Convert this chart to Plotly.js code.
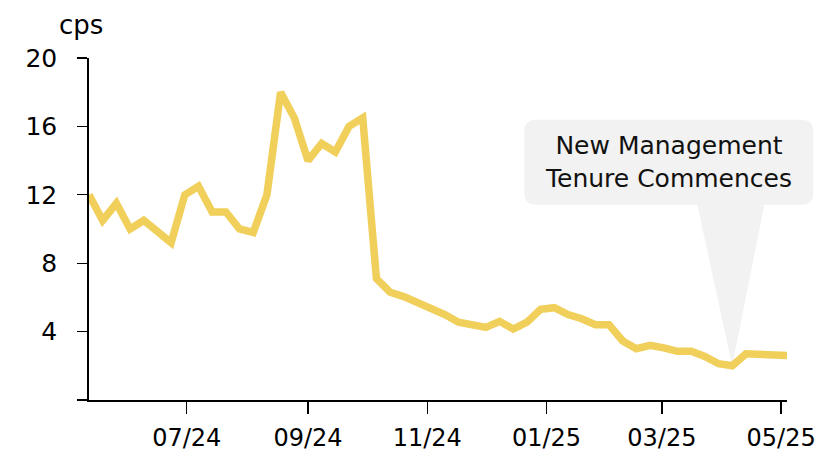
<!DOCTYPE html>
<html>
<head>
<meta charset="utf-8">
<script src="https://cdn.plot.ly/plotly-3.0.1.min.js"></script>
<style>
html,body{margin:0;padding:0;background:#fff;}
#chart{width:825px;height:453px;}
</style>
</head>
<body>
<div id="chart"></div>
<script>
// Weekly observation dates
const dates = [
  "2024-05-12","2024-05-19","2024-05-26","2024-06-02","2024-06-09","2024-06-16","2024-06-23","2024-06-30",
  "2024-07-07","2024-07-14","2024-07-21","2024-07-28","2024-08-04","2024-08-11","2024-08-18","2024-08-25",
  "2024-09-01","2024-09-08","2024-09-15","2024-09-22","2024-09-29","2024-10-06","2024-10-13","2024-10-20",
  "2024-10-27","2024-11-03","2024-11-10","2024-11-17","2024-11-24","2024-12-01","2024-12-08","2024-12-15",
  "2024-12-22","2024-12-29","2025-01-05","2025-01-12","2025-01-19","2025-01-26","2025-02-02","2025-02-09",
  "2025-02-16","2025-02-23","2025-03-02","2025-03-09","2025-03-16","2025-03-23","2025-03-30","2025-04-06",
  "2025-04-13","2025-04-20","2025-04-27","2025-05-04"
];
// Values in cents per share (cps)
const values = [
  12.0, 10.5, 11.5, 10.0, 10.5, 9.8, 9.2, 12.0,
  12.5, 11.0, 11.0, 10.0, 9.8, 12.0, 18.0, 16.5,
  14.0, 15.0, 14.5, 16.0, 16.5, 7.1, 6.3, 6.05,
  5.7, 5.45, 5.0, 4.55, 4.45, 4.25, 4.6, 4.15,
  4.55, 5.3, 5.4, 5.0, 4.75, 4.4, 4.4, 3.45,
  3.0, 3.2, 3.05, 2.85, 2.85, 2.55, 2.12, 2.0,
  2.7, 2.7, 2.6, 2.6
];
const xTickVals = ["2024-07-01","2024-09-01","2024-11-01","2025-01-01","2025-03-01","2025-05-01"];
const xTickText = ["07/24","09/24","11/24","01/25","03/25","05/25"];
const yTickVals = [0, 4, 8, 12, 16, 20];
const yTickText = ["", "4", "8", "12", "16", "20"];
const yRange = [0, 20];
const unitLabel = "cps";
const calloutText = "New Management<br>Tenure Commences";
const calloutDate = "2025-04-06";
const calloutValue = 2.0;

const lineColor = "#F0CF5A";
const boxColor = "#F2F2F2";
const fontFamily = "DejaVu Sans, Arial, sans-serif";

// Anchor of the callout, as a fraction of the plot area (paper refs are not clipped)
const t0 = Date.parse(dates[0]), t1 = Date.parse(dates[dates.length - 1]);
const anchorX = (Date.parse(calloutDate) - t0) / (t1 - t0);
const anchorY = (calloutValue - yRange[0]) / (yRange[1] - yRange[0]);

// Rounded box path in pixels relative to the callout anchor point
function roundedRect(x0, x1, y0, y1, r) {
  return `M ${x0 + r} ${y0} L ${x1 - r} ${y0} Q ${x1} ${y0} ${x1} ${y0 + r} ` +
         `L ${x1} ${y1 - r} Q ${x1} ${y1} ${x1 - r} ${y1} L ${x0 + r} ${y1} ` +
         `Q ${x0} ${y1} ${x0} ${y1 - r} L ${x0} ${y0 + r} Q ${x0} ${y0} ${x0 + r} ${y0} Z`;
}

const trace = {
  x: dates, y: values, type: "scatter", mode: "lines",
  line: {color: lineColor, width: 7.5, shape: "linear"},
  hoverinfo: "skip"
};

const layout = {
  width: 825, height: 453,
  margin: {l: 89, r: 38, t: 58, b: 53},
  paper_bgcolor: "#fff", plot_bgcolor: "#fff",
  showlegend: false,
  xaxis: {
    type: "date",
    range: [dates[0], dates[dates.length - 1]],
    tickvals: xTickVals, ticktext: xTickText,
    ticks: "outside", ticklen: 12, tickwidth: 1.3, tickcolor: "#000",
    showline: true, linecolor: "#000", linewidth: 1.8,
    showgrid: false, zeroline: false,
    tickfont: {family: fontFamily, size: 24, color: "#000"}, ticklabelstandoff: 3
  },
  yaxis: {
    range: yRange,
    tickvals: yTickVals, ticktext: yTickText,
    ticks: "outside", ticklen: 10, tickwidth: 1.3, tickcolor: "#000",
    showline: true, linecolor: "#000", linewidth: 1.8,
    showgrid: false, zeroline: false,
    tickfont: {family: fontFamily, size: 25, color: "#000"}, ticklabelstandoff: 15
  },
  shapes: [
    {
      type: "path", layer: "below",
      xref: "paper", yref: "paper", xsizemode: "pixel", ysizemode: "pixel",
      xanchor: anchorX, yanchor: anchorY,
      path: "M -36 166 L 33 166 L 0 0 Z",
      fillcolor: boxColor, line: {width: 0}
    },
    {
      type: "path", layer: "below",
      xref: "paper", yref: "paper", xsizemode: "pixel", ysizemode: "pixel",
      xanchor: anchorX, yanchor: anchorY,
      path: roundedRect(-208, 81, 161, 246, 12),
      fillcolor: boxColor, line: {width: 0}
    }
  ],
  annotations: [
    {
      xref: "x", yref: "y", x: calloutDate, y: calloutValue,
      xshift: -64, yshift: 204,
      text: calloutText, showarrow: false,
      xanchor: "center", yanchor: "middle", align: "center",
      font: {family: fontFamily, size: 25, color: "#111"}
    },
    {
      xref: "paper", yref: "paper", x: -0.012, y: 1.0, yshift: 33,
      text: unitLabel, showarrow: false,
      xanchor: "center", yanchor: "middle",
      font: {family: fontFamily, size: 26, color: "#000"}
    }
  ]
};

Plotly.newPlot("chart", [trace], layout, {staticPlot: true, displayModeBar: false});
</script>
</body>
</html>
